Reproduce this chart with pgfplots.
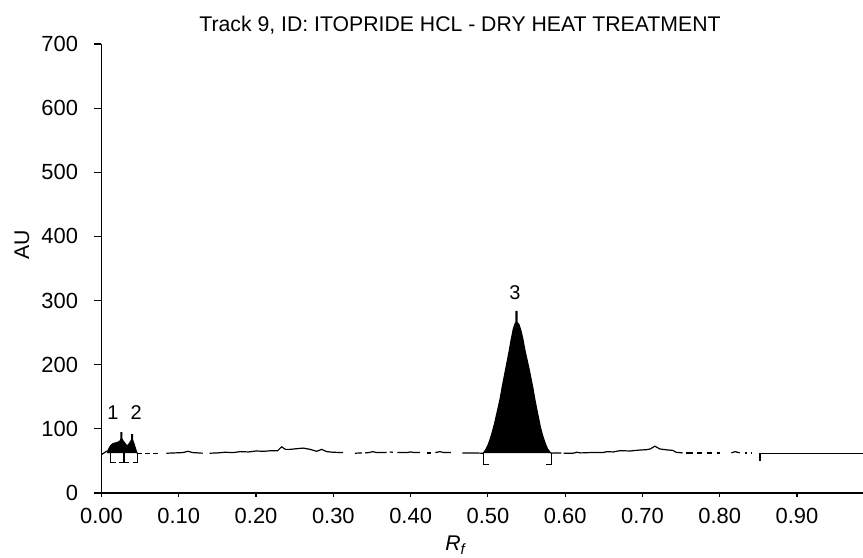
\documentclass[border=0pt]{standalone}
\usepackage{fontspec}
\setmainfont{Liberation Sans}
\usepackage{pgfplots}
\pgfplotsset{compat=1.18}
\begin{document}
\begin{tikzpicture}
\pgfplotsset{tr/.style={black, line width=1.2bp, no marks, forget plot}}
\begin{axis}[
  scale only axis, width=761.5bp, height=449bp,
  xmin=0, xmax=0.9854, ymin=0, ymax=700,
  axis lines*=left, axis line style={line width=1.2bp},
  tick align=outside, major tick length=7bp,
  tick style={black, line width=1.2bp},
  xtick style={/pgfplots/major tick length=3.5bp},
  xtick={0,0.1,0.2,0.3,0.4,0.5,0.6,0.7,0.8,0.9},
  ytick={0,100,200,300,400,500,600,700},
  tick label style={font=\fontsize{22}{26}\selectfont},
  yticklabel style={xshift=-13bp},
  xticklabel style={yshift=-5bp},
  /pgf/number format/assume math mode=true,
  xticklabel style={/pgf/number format/.cd, fixed, fixed zerofill, precision=2},
  clip=false,
]
\coordinate (SW) at (rel axis cs:0,0);
\coordinate (NE) at (rel axis cs:1,1);
% start of trace
\addplot[tr] coordinates {(0.000,60) (0.004,63) (0.008,66)};
% peaks 1 and 2 (filled)
\addplot[tr, fill=black] coordinates {(0.008,62) (0.009,68) (0.012,74) (0.015,77) (0.018,78) (0.021,79) (0.024,81) (0.0253,85) (0.0253,94) (0.0262,94) (0.0262,85) (0.028,81) (0.030,78) (0.033,73) (0.036,77) (0.038,81) (0.0392,84) (0.0392,91) (0.0401,91) (0.0401,83) (0.042,77) (0.044,69) (0.046,62)};
% brackets peaks 1,2
\addplot[tr] coordinates {(0.0185,47) (0.012,47) (0.012,62)};
\addplot[tr] coordinates {(0.023,47) (0.035,47)};
\addplot[tr] coordinates {(0.029,47) (0.029,62)};
\addplot[tr] coordinates {(0.041,47) (0.047,47) (0.047,62)};
% trace
\addplot[tr, dash pattern=on 5bp off 3bp] coordinates {(0.046,62) (0.073,62)};
\addplot[tr] coordinates {(0.084,62) (0.095,62.5) (0.105,63) (0.112,65) (0.118,63) (0.125,62.5) (0.131,62)};
\addplot[tr] coordinates {(0.140,62) (0.15,62.5) (0.16,63.5) (0.17,63) (0.18,64.5) (0.19,64) (0.20,65.5) (0.21,65) (0.22,66) (0.228,66) (0.233,72) (0.238,68) (0.244,68) (0.252,69) (0.261,70) (0.270,68) (0.2785,65) (0.285,68) (0.2914,64.5) (0.30,63.5) (0.3126,63)};
\addplot[tr] coordinates {(0.328,62) (0.337,62.5)};
\addplot[tr] coordinates {(0.341,62.5) (0.346,63) (0.351,64.5) (0.356,63) (0.369,63)};
\addplot[tr] coordinates {(0.373,64) (0.377,63.5)};
\addplot[tr] coordinates {(0.383,63) (0.395,63) (0.400,64) (0.405,63) (0.412,63)};
\addplot[tr] coordinates {(0.421,62.5) (0.427,62.5)};
\addplot[tr] coordinates {(0.432,63) (0.438,64.5) (0.443,63) (0.452,63)};
\addplot[tr] coordinates {(0.467,62.5) (0.480,62.5) (0.494,62)};
% peak 3 (filled)
\addplot[tr, fill=black] coordinates {(0.494,62) (0.497,67) (0.500,74) (0.503,84) (0.506,96) (0.509,110) (0.512,126) (0.5157,146) (0.519,168) (0.5235,196) (0.5277,222) (0.530,238) (0.533,256) (0.5355,265) (0.5364,266) (0.5364,283) (0.5376,283) (0.5376,266) (0.540,263) (0.5425,254) (0.5449,242) (0.548,222) (0.5535,192) (0.558,165) (0.5613,142) (0.565,120) (0.568,102) (0.5707,90) (0.574,78) (0.577,69) (0.580,64) (0.582,62)};
% brackets peak 3
\addplot[tr] coordinates {(0.501,44) (0.494,44) (0.494,62)};
\addplot[tr] coordinates {(0.575,44) (0.582,44) (0.582,62)};
% trace after peak 3
\addplot[tr] coordinates {(0.582,62) (0.587,62.5) (0.595,62.5)};
\addplot[tr] coordinates {(0.598,62) (0.61,62) (0.615,63.5) (0.62,62.5) (0.632,63) (0.649,63) (0.654,64.5) (0.662,64) (0.671,66) (0.684,65.5) (0.697,67) (0.705,67.5) (0.710,68.6) (0.716,73) (0.7226,68.6) (0.7334,67) (0.739,66.5) (0.744,63.4) (0.752,62.5)};
\addplot[tr] coordinates {(0.756,62.5) (0.765,62.5)};
\addplot[tr] coordinates {(0.770,62.5) (0.777,62.5)};
\addplot[tr] coordinates {(0.783,62.5) (0.790,62.5)};
\addplot[tr] coordinates {(0.797,62.5) (0.800,62.5)};
\addplot[tr] coordinates {(0.815,62.5) (0.820,64.5) (0.826,62.5)};
\addplot[tr] coordinates {(0.833,62.5) (0.835,62.5)};
\addplot[tr] coordinates {(0.840,62.5) (0.842,62.5)};
% baseline at right
\addplot[tr] coordinates {(0.852,50) (0.852,61) (0.9854,61)};
% peak labels
\node[font=\fontsize{20}{24}\selectfont] at (axis cs:0.0149,125) {1};
\node[font=\fontsize{20}{24}\selectfont] at (axis cs:0.0447,125) {2};
\node[font=\fontsize{20}{24}\selectfont] at (axis cs:0.535,312) {3};
\end{axis}
\node[font=\fontsize{21.3}{25}\selectfont] at ([shift={(358.5bp,468bp)}]SW) {Track 9, ID: ITOPRIDE HCL - DRY HEAT TREATMENT};
\node[font=\fontsize{21.3}{25}\selectfont, rotate=90] at ([shift={(-79.5bp,248bp)}]SW) {AU};
\node[font=\fontsize{21.3}{25}\selectfont] at ([shift={(354.5bp,-52bp)}]SW) {\textit{R}\textsubscript{\textit{f}}};
\pgfresetboundingbox
\path[use as bounding box] ([shift={(-101.5bp,-65bp)}]SW) rectangle ([shift={(0bp,44bp)}]NE);
\end{tikzpicture}
\end{document}
